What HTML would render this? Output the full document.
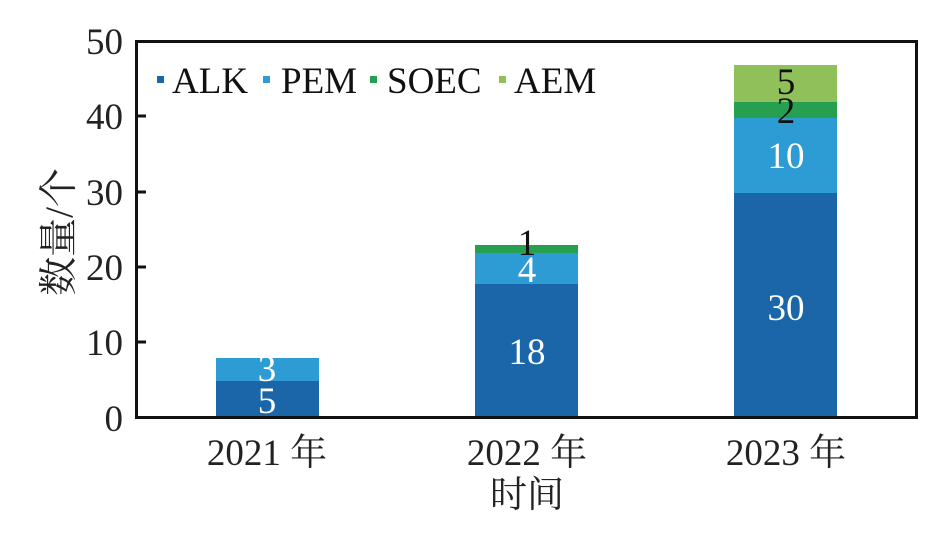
<!DOCTYPE html>
<html><head><meta charset="utf-8"><style>
html,body{margin:0;padding:0;background:#fff;}
svg{display:block;}
text{font-family:"Liberation Serif","Noto Serif CJK SC",serif;}
</style></head><body>
<svg width="946" height="535" viewBox="0 0 946 535" xmlns="http://www.w3.org/2000/svg">
<rect width="946" height="535" fill="#fff"/>
<rect x="216" y="381" width="103" height="37" fill="#1a66a8"/>
<rect x="216" y="358" width="103" height="23" fill="#2e9cd4"/>
<rect x="475" y="284" width="103" height="134" fill="#1a66a8"/>
<rect x="475" y="253" width="103" height="31" fill="#2e9cd4"/>
<rect x="475" y="245" width="103" height="8" fill="#26a050"/>
<rect x="734" y="193" width="103" height="225" fill="#1a66a8"/>
<rect x="734" y="118" width="103" height="75" fill="#2e9cd4"/>
<rect x="734" y="102" width="103" height="16" fill="#26a050"/>
<rect x="734" y="65" width="103" height="37" fill="#8fc05a"/>
<rect x="136.5" y="41.5" width="780" height="376" fill="none" stroke="#111" stroke-width="3"/>
<g stroke="#111" stroke-width="3">
<line x1="136" y1="116" x2="146" y2="116"/><line x1="136" y1="192" x2="146" y2="192"/>
<line x1="136" y1="267" x2="146" y2="267"/><line x1="136" y1="342" x2="146" y2="342"/>
</g>
<g font-size="37" fill="#222" text-anchor="end">
<text x="123" y="54">50</text><text x="123" y="129">40</text><text x="123" y="205">30</text>
<text x="123" y="280">20</text><text x="123" y="355">10</text><text x="123" y="431">0</text>
</g>
<text transform="translate(72,232) rotate(-90)" font-size="39" fill="#222" text-anchor="middle">数量/个</text>
<g font-size="37" fill="#222" text-anchor="middle">
<text x="267" y="465">2021 年</text><text x="527" y="465">2022 年</text><text x="786" y="465">2023 年</text>
<text x="527" y="507">时间</text>
</g>
<g font-size="37" text-anchor="middle">
<text x="267" y="413" fill="#fff">5</text><text x="267" y="381" fill="#fff">3</text>
<text x="527" y="364" fill="#fff">18</text><text x="527" y="282" fill="#fff">4</text>
<text x="527" y="255" fill="#111">1</text>
<text x="786" y="320" fill="#fff">30</text><text x="786" y="168" fill="#fff">10</text>
<text x="786" y="123" fill="#111">2</text><text x="786" y="94" fill="#111">5</text>
</g>
<rect x="157" y="76" width="7" height="7" fill="#1a66a8"/>
<rect x="263" y="76" width="7" height="7" fill="#2e9cd4"/>
<rect x="370" y="76" width="7" height="7" fill="#26a050"/>
<rect x="499" y="76" width="7" height="7" fill="#8fc05a"/>
<g font-size="37" fill="#111">
<text x="172" y="93">ALK</text><text x="281" y="93">PEM</text><text x="387" y="93">SOEC</text><text x="514" y="93">AEM</text>
</g>
</svg>
</body></html>
